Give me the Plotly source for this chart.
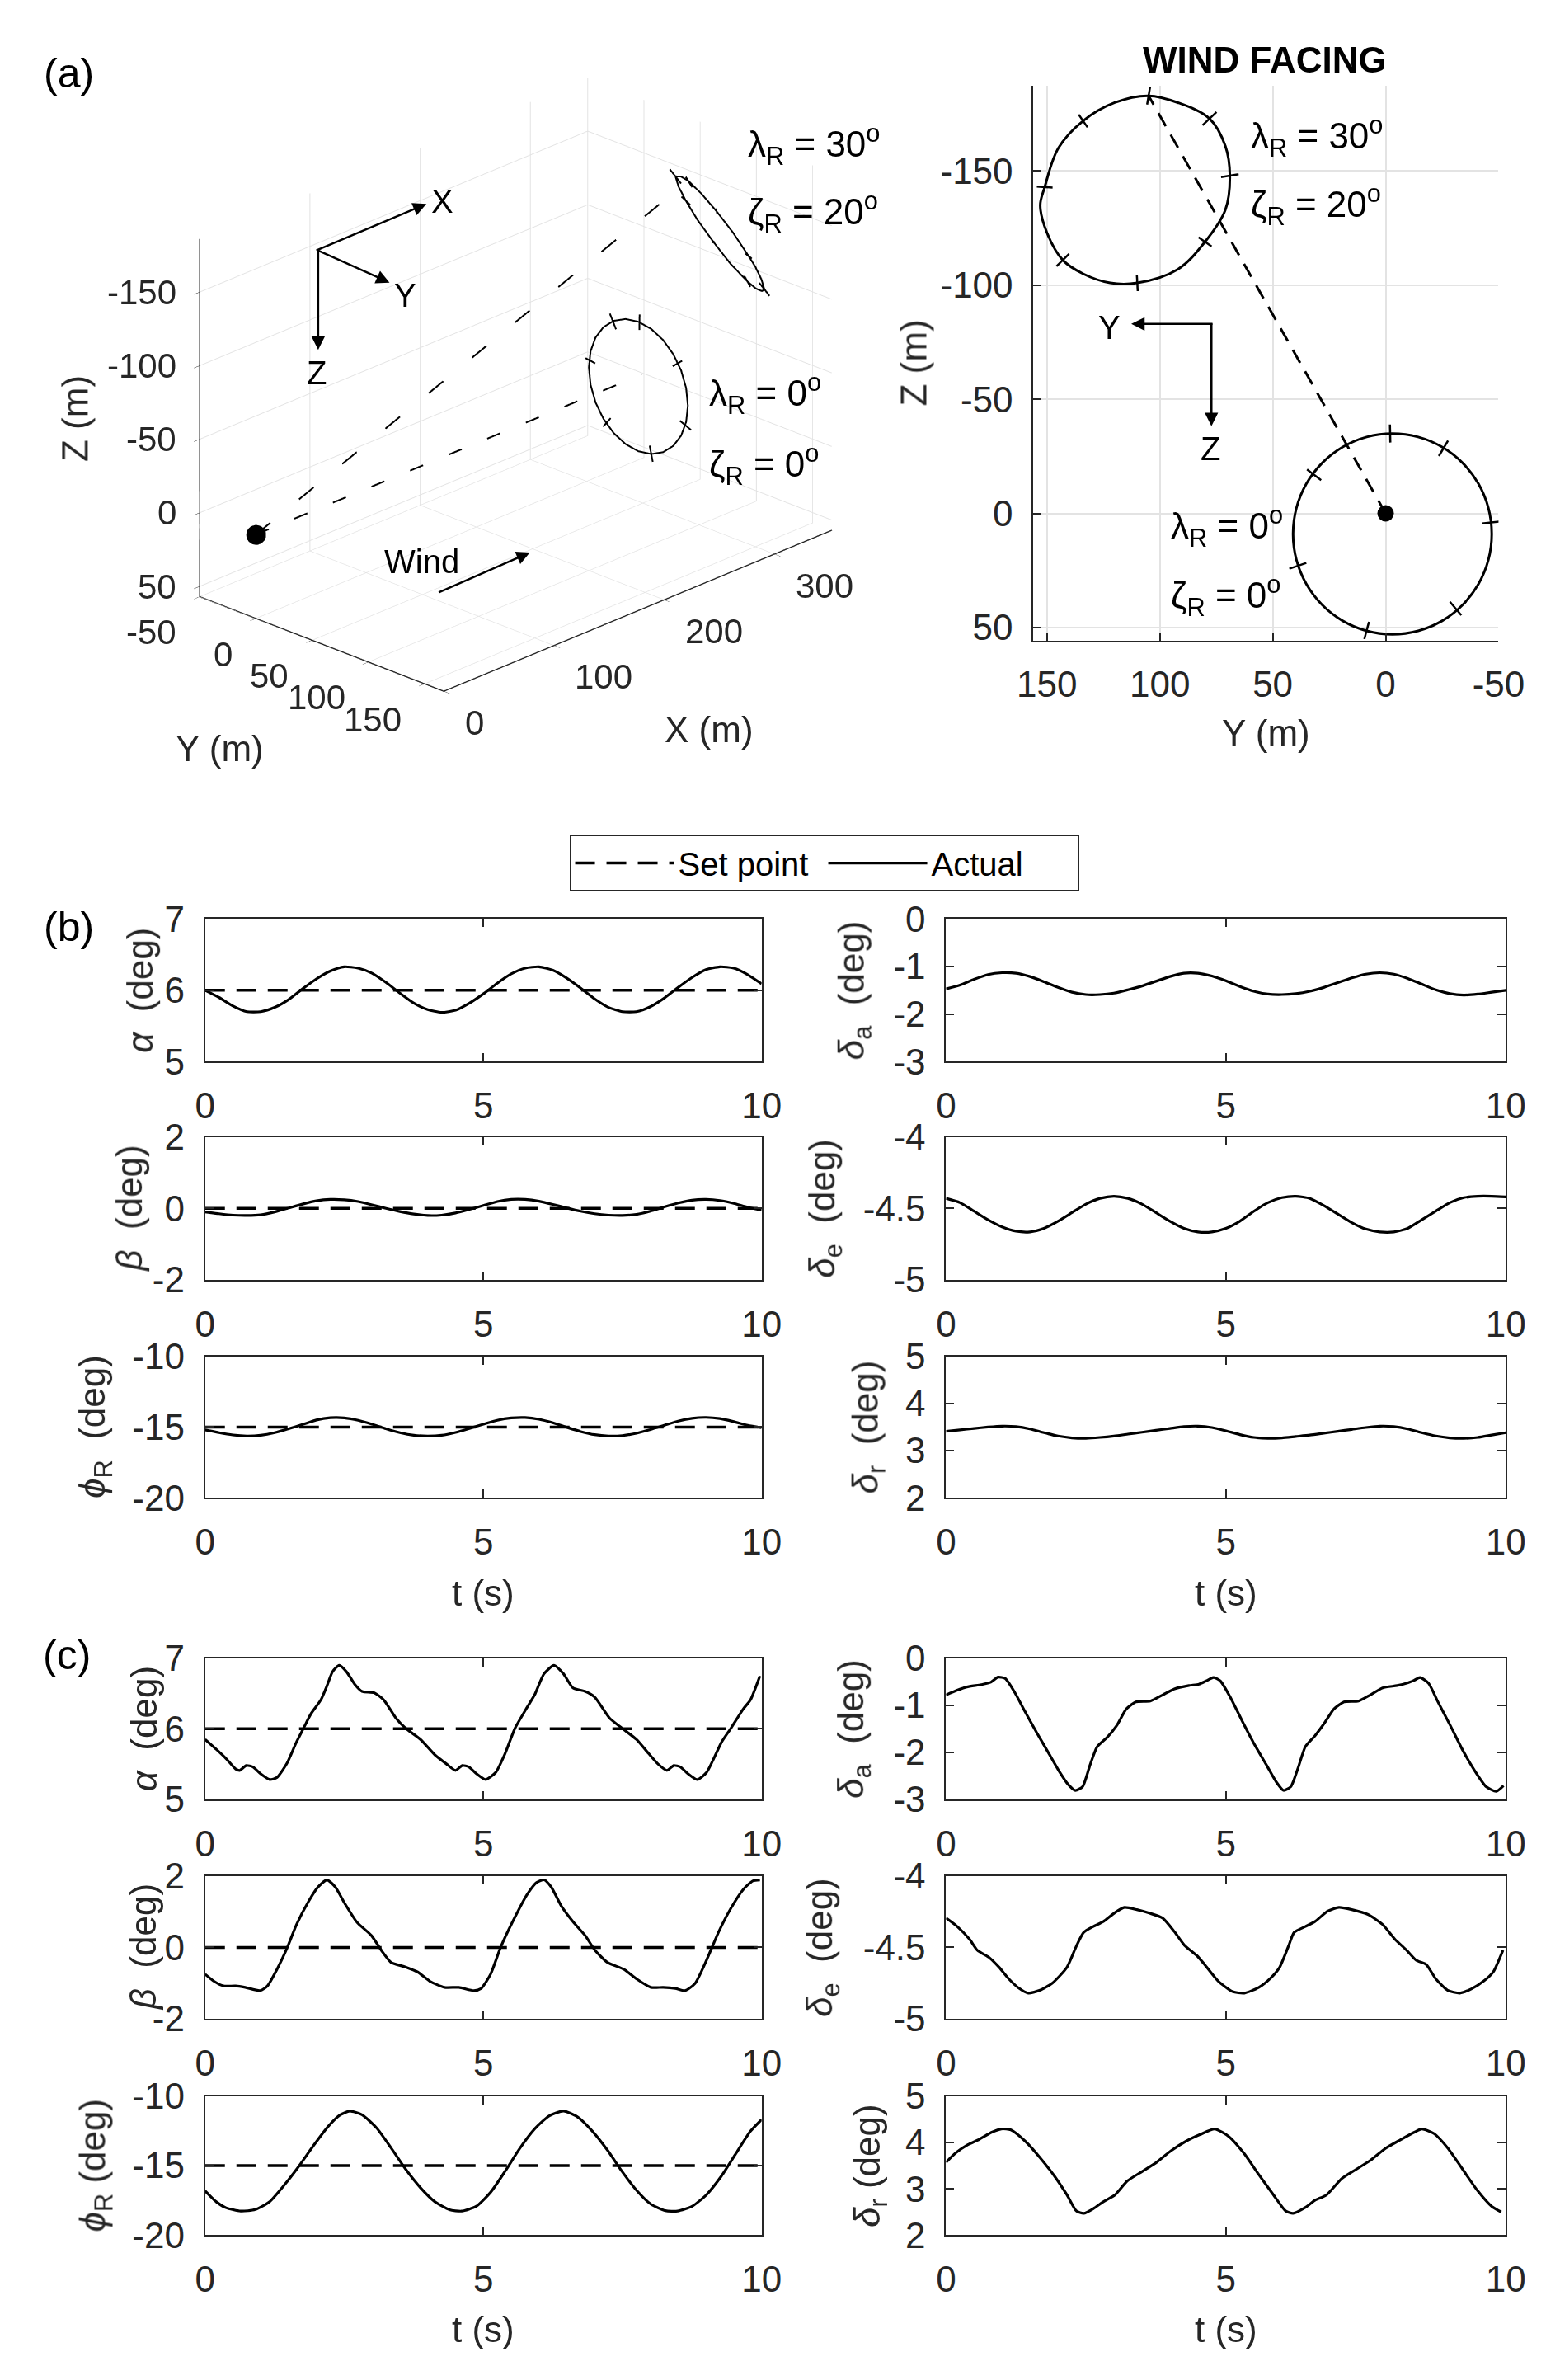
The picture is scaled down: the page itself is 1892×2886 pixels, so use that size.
import numpy as np
import plotly.graph_objects as go

W, H = 1892, 2886
FONT = "Liberation Sans, Arial, sans-serif"
INK = "#262626"
GRID = "#e3e3e3"

# ---------------- (a) flight paths, metres ----------------
# ground station
gs_x, gs_y, gs_z = [0], [0], [0]
# tether end points (lambda=0/zeta=0 and lambda=30/zeta=20)
tether_x = [350, 285]
tether_y = [0, 105]
tether_z = [0, -183]

# loop at lambda_R = 0, zeta_R = 0
low_y = [-3, -14.4, -25, -34.1, -41.1, -45.5, -47, -45.5, -41.1, -34.1, -25, -14.4,
         -3, 8.4, 19, 28.1, 35.1, 39.5, 41, 39.5, 35.1, 28.1, 19, 8.4]
low_z = [-35, -33.5, -29.1, -22.1, -13, -2.4, 9, 20.4, 31, 40.1, 47.1, 51.5,
         53, 51.5, 47.1, 40.1, 31, 20.4, 9, -2.4, -13, -22.1, -29.1, -33.5]
low_x = [350] * len(low_y)
low_tick_y = [-2, -25.6, -46.6, -31, 8.4, 38.9, 31.7]
low_tick_z = [-35, -28.5, 4, 41.7, 51.3, 23, -16.9]
low_tick_x = [350] * len(low_tick_y)

# loop at lambda_R = 30, zeta_R = 20
up_x = [285.0, 291.6, 301.0, 310.9, 319.6, 328.1, 333.4, 336.4, 333.6, 329.2,
        322.4, 315.4, 305.5, 297.0, 292.9, 284.6, 281.2, 281.4]
up_y = [105, 92, 78, 71, 69, 71, 80, 92, 110, 122, 134, 143, 150, 153, 151, 145, 134, 120]
up_z = [-183, -180, -173, -161, -148, -133, -119, -107, -101, -101, -105, -111,
        -123, -135, -143, -160, -172, -180]
up_tick_x = [285.0, 301.0, 319.6, 333.4, 333.6, 315.4, 292.9, 281.2]
up_tick_y = [105, 78, 69, 80, 110, 143, 151, 134]
up_tick_z = [-183, -173, -148, -119, -101, -111, -143, -172]

# axis ticks of panel (a)
x3_ticks = [0, 100, 200, 300]
y3_ticks = [-50, 0, 50, 100, 150]
z3_ticks = [-150, -100, -50, 0, 50]
yf_ticks = [150, 100, 50, 0, -50]
zf_ticks = [-150, -100, -50, 0, 50]

# ---------------- (b) / (c) time histories ----------------
t_b = [i * 0.25 for i in range(41)]
b_alpha = [6.00, 5.90, 5.78, 5.70, 5.70, 5.76, 5.87, 6.02, 6.16, 6.27, 6.33, 6.31, 6.24, 6.11,
           5.96, 5.82, 5.73, 5.69, 5.72, 5.82, 5.95, 6.10, 6.23, 6.31, 6.33, 6.28, 6.17, 6.03,
           5.88, 5.76, 5.70, 5.70, 5.77, 5.89, 6.04, 6.18, 6.29, 6.33, 6.31, 6.22, 6.09]
b_beta = [-0.10, -0.15, -0.19, -0.20, -0.18, -0.10, 0.01, 0.12, 0.21, 0.25, 0.24, 0.19, 0.10,
          0.00, -0.09, -0.16, -0.20, -0.19, -0.13, -0.03, 0.08, 0.19, 0.25, 0.25, 0.20, 0.11,
          0.01, -0.08, -0.15, -0.19, -0.20, -0.17, -0.08, 0.04, 0.15, 0.23, 0.25, 0.22, 0.14,
          0.03, -0.05]
b_phi = [-15.20, -15.40, -15.56, -15.63, -15.58, -15.40, -15.12, -14.82, -14.50, -14.34,
         -14.35, -14.52, -14.80, -15.12, -15.40, -15.58, -15.63, -15.58, -15.38, -15.10,
         -14.80, -14.52, -14.36, -14.33, -14.45, -14.70, -15.02, -15.32, -15.54, -15.63,
         -15.60, -15.44, -15.18, -14.88, -14.58, -14.38, -14.32, -14.40, -14.62, -14.88, -15.05]
b_da = [-1.47, -1.39, -1.27, -1.17, -1.13, -1.14, -1.21, -1.32, -1.44, -1.54, -1.59, -1.59,
        -1.56, -1.49, -1.41, -1.31, -1.21, -1.14, -1.14, -1.20, -1.30, -1.42, -1.52, -1.58,
        -1.59, -1.57, -1.52, -1.44, -1.34, -1.24, -1.16, -1.13, -1.16, -1.25, -1.37, -1.49,
        -1.57, -1.60, -1.58, -1.54, -1.50]
b_de = [-4.43, -4.46, -4.52, -4.58, -4.63, -4.66, -4.665, -4.64, -4.59, -4.53, -4.47, -4.43,
        -4.415, -4.43, -4.47, -4.53, -4.59, -4.64, -4.665, -4.665, -4.64, -4.59, -4.52, -4.46,
        -4.425, -4.415, -4.43, -4.48, -4.54, -4.60, -4.645, -4.665, -4.665, -4.64, -4.58,
        -4.52, -4.46, -4.425, -4.415, -4.415, -4.42]
b_dr = [3.41, 3.44, 3.47, 3.50, 3.52, 3.51, 3.46, 3.38, 3.31, 3.27, 3.26, 3.28, 3.31, 3.35,
        3.39, 3.43, 3.47, 3.51, 3.52, 3.49, 3.42, 3.34, 3.28, 3.26, 3.27, 3.30, 3.33, 3.37,
        3.41, 3.45, 3.49, 3.52, 3.51, 3.46, 3.38, 3.31, 3.27, 3.26, 3.28, 3.33, 3.38]

c_alpha_t = [0, 0.2, 0.375, 0.55, 0.62, 0.74, 0.86, 1.0, 1.16, 1.29, 1.47, 1.64, 1.77, 1.9,
             2.08, 2.19, 2.29, 2.41, 2.54, 2.69, 2.82, 3.04, 3.21, 3.43, 3.6, 3.87, 4.13, 4.34,
             4.5, 4.62, 4.74, 4.88, 5.04, 5.22, 5.39, 5.57, 5.79, 5.92, 6.09, 6.27, 6.44, 6.61,
             6.83, 7.0, 7.27, 7.49, 7.75, 7.97, 8.14, 8.3, 8.42, 8.54, 8.68, 8.84, 9.01, 9.28,
             9.45, 9.67, 9.8, 9.97]
c_alpha = [5.85, 5.71, 5.58, 5.43, 5.41, 5.48, 5.46, 5.36, 5.28, 5.31, 5.51, 5.81, 6.01, 6.21,
           6.41, 6.61, 6.81, 6.9, 6.81, 6.63, 6.53, 6.51, 6.41, 6.15, 6.01, 5.85, 5.63, 5.5,
           5.41, 5.48, 5.46, 5.36, 5.28, 5.38, 5.65, 6.01, 6.31, 6.48, 6.78, 6.9, 6.78, 6.58,
           6.53, 6.45, 6.15, 6.01, 5.85, 5.65, 5.5, 5.41, 5.48, 5.46, 5.36, 5.28, 5.38, 5.81,
           6.01, 6.28, 6.41, 6.75]
c_beta_t = [0, 0.16, 0.33, 0.55, 0.72, 0.99, 1.12, 1.29, 1.47, 1.64, 1.86, 2.03, 2.19, 2.34,
            2.51, 2.73, 2.99, 3.17, 3.34, 3.6, 3.82, 4.04, 4.3, 4.56, 4.83, 4.96, 5.13, 5.31,
            5.52, 5.79, 5.96, 6.09, 6.22, 6.4, 6.62, 6.83, 7.01, 7.23, 7.53, 7.75, 8.01, 8.23,
            8.45, 8.62, 8.8, 9.01, 9.23, 9.45, 9.67, 9.84, 9.97]
c_beta = [-0.75, -0.95, -1.08, -1.08, -1.12, -1.21, -1.08, -0.62, -0.03, 0.63, 1.29, 1.69,
          1.89, 1.69, 1.23, 0.7, 0.33, -0.09, -0.42, -0.55, -0.69, -0.95, -1.12, -1.12, -1.21,
          -1.15, -0.75, 0.0, 0.7, 1.49, 1.82, 1.89, 1.69, 1.16, 0.7, 0.33, -0.09, -0.42, -0.62,
          -0.88, -1.12, -1.12, -1.15, -1.21, -1.02, -0.36, 0.44, 1.1, 1.62, 1.86, 1.89]
c_phi_t = [0, 0.2, 0.375, 0.64, 0.9, 1.16, 1.42, 1.68, 1.95, 2.21, 2.43, 2.6, 2.82, 3.08, 3.34,
           3.6, 3.87, 4.13, 4.39, 4.61, 4.87, 5.13, 5.39, 5.65, 5.92, 6.18, 6.44, 6.7, 6.96,
           7.23, 7.49, 7.75, 8.01, 8.27, 8.49, 8.75, 9.01, 9.28, 9.54, 9.8, 10.0]
c_phi = [-16.82, -17.6, -18.03, -18.27, -18.16, -17.59, -16.41, -15.07, -13.55, -12.19, -11.35,
         -11.08, -11.35, -12.29, -13.72, -15.24, -16.59, -17.6, -18.17, -18.27, -17.93, -16.92,
         -15.41, -13.79, -12.37, -11.43, -11.08, -11.52, -12.53, -13.89, -15.41, -16.76,
         -17.77, -18.24, -18.27, -17.93, -17.09, -15.74, -14.12, -12.53, -11.69]
c_da_t = [0, 0.2, 0.37, 0.63, 0.8, 0.93, 1.06, 1.23, 1.41, 1.62, 1.84, 2.01, 2.18, 2.31, 2.44,
          2.57, 2.7, 2.88, 3.05, 3.22, 3.39, 3.65, 3.87, 4.08, 4.34, 4.52, 4.65, 4.78, 4.9,
          5.08, 5.29, 5.51, 5.73, 5.9, 6.03, 6.16, 6.29, 6.42, 6.59, 6.76, 6.93, 7.11, 7.37,
          7.58, 7.8, 8.06, 8.23, 8.36, 8.47, 8.62, 8.79, 9.01, 9.22, 9.44, 9.65, 9.83, 9.96]
c_da = [-0.78, -0.68, -0.61, -0.56, -0.51, -0.4, -0.43, -0.73, -1.13, -1.58, -2.03, -2.38,
        -2.68, -2.81, -2.73, -2.28, -1.88, -1.68, -1.43, -1.08, -0.93, -0.91, -0.78, -0.65,
        -0.58, -0.55, -0.48, -0.41, -0.48, -0.83, -1.33, -1.83, -2.28, -2.63, -2.81, -2.73,
        -2.33, -1.88, -1.65, -1.38, -1.08, -0.93, -0.91, -0.78, -0.63, -0.58, -0.53, -0.47,
        -0.41, -0.53, -0.93, -1.43, -1.93, -2.38, -2.73, -2.83, -2.71]
c_de_t = [0, 0.2, 0.42, 0.56, 0.78, 0.95, 1.12, 1.3, 1.47, 1.68, 1.9, 2.16, 2.33, 2.46, 2.63,
          2.81, 3.02, 3.19, 3.41, 3.63, 3.87, 4.08, 4.26, 4.48, 4.62, 4.86, 5.12, 5.33, 5.59,
          5.8, 5.96, 6.12, 6.22, 6.42, 6.59, 6.82, 7.02, 7.25, 7.54, 7.8, 8.02, 8.23, 8.4,
          8.58, 8.75, 8.96, 9.18, 9.39, 9.61, 9.78, 9.95]
c_de = [-4.295, -4.354, -4.443, -4.52, -4.574, -4.64, -4.72, -4.785, -4.82, -4.8, -4.75,
        -4.64, -4.49, -4.395, -4.354, -4.32, -4.256, -4.22, -4.236, -4.26, -4.295, -4.39,
        -4.485, -4.557, -4.62, -4.735, -4.81, -4.82, -4.78, -4.715, -4.64, -4.49, -4.395,
        -4.354, -4.32, -4.246, -4.22, -4.236, -4.27, -4.34, -4.443, -4.52, -4.59, -4.62,
        -4.72, -4.8, -4.82, -4.79, -4.735, -4.67, -4.52]
c_dr_t = [0, 0.17, 0.39, 0.6, 0.82, 0.99, 1.16, 1.42, 1.68, 1.94, 2.16, 2.33, 2.46, 2.63,
          2.81, 3.02, 3.24, 3.5, 3.76, 4.02, 4.28, 4.54, 4.8, 5.06, 5.32, 5.58, 5.85, 6.07,
          6.2, 6.41, 6.59, 6.8, 7.07, 7.33, 7.59, 7.85, 8.11, 8.37, 8.5, 8.72, 8.97, 9.23,
          9.49, 9.75, 9.92]
c_dr = [3.57, 3.77, 3.95, 4.07, 4.22, 4.29, 4.27, 4.02, 3.67, 3.27, 2.87, 2.52, 2.47, 2.57,
        2.72, 2.87, 3.17, 3.37, 3.57, 3.82, 4.02, 4.17, 4.29, 4.12, 3.77, 3.32, 2.87, 2.52,
        2.47, 2.59, 2.75, 2.87, 3.22, 3.42, 3.62, 3.87, 4.05, 4.22, 4.29, 4.19, 3.87, 3.42,
        2.97, 2.62, 2.5]

set_alpha, set_beta, set_phi = 6, 0, -15
t_ticks = [0, 5, 10]


def px(x):
    return x / W


def py(y):
    return 1 - y / H


def closed(v):
    return list(v) + [v[0]]


def labels(vals):
    # MATLAB style hyphen minus
    return ["%g" % v for v in vals]


def radial_ticks(cols, tick_cols, frac):
    # short strokes across the path, pointing away from the loop centre
    centre = [float(np.mean(c)) for c in cols]
    out = [[] for _ in tick_cols]
    for pt in zip(*tick_cols):
        for k, (p, c) in enumerate(zip(pt, centre)):
            out[k] += [p - frac * (p - c), p + frac * (p - c), None]
    return out


fig = go.Figure()
solid3d = dict(color="black", width=4)

# ---------------- 3D view ----------------
loops = [(low_x, low_y, low_z, low_tick_x, low_tick_y, low_tick_z),
         (up_x, up_y, up_z, up_tick_x, up_tick_y, up_tick_z)]
for lx, ly, lz, tx, ty, tz in loops:
    fig.add_trace(go.Scatter3d(x=closed(lx), y=closed(ly), z=closed(lz), mode="lines",
                               line=solid3d, showlegend=False, hoverinfo="skip", scene="scene"))
    sx, sy, sz = radial_ticks([lx, ly, lz], [tx, ty, tz], 0.12)
    fig.add_trace(go.Scatter3d(x=sx, y=sy, z=sz, mode="lines", line=solid3d,
                               showlegend=False, hoverinfo="skip", scene="scene"))
for ex, ey, ez in zip(tether_x, tether_y, tether_z):
    fig.add_trace(go.Scatter3d(x=[gs_x[0], ex], y=[gs_y[0], ey], z=[gs_z[0], ez], mode="lines",
                               line=dict(color="black", width=4, dash="longdash"),
                               showlegend=False, hoverinfo="skip", scene="scene"))
fig.add_trace(go.Scatter3d(x=gs_x, y=gs_y, z=gs_z, mode="markers",
                           marker=dict(size=14, color="black"), showlegend=False,
                           hoverinfo="skip", scene="scene"))

# ---------------- wind facing view ----------------
for lx, ly, lz, tx, ty, tz in loops:
    fig.add_trace(go.Scatter(x=closed(ly), y=closed(lz), mode="lines",
                             line=dict(color="black", width=3, shape="spline"),
                             showlegend=False, hoverinfo="skip", xaxis="x", yaxis="y"))
    sy, sz = radial_ticks([ly, lz], [ty, tz], 0.09)
    fig.add_trace(go.Scatter(x=sy, y=sz, mode="lines", line=dict(color="black", width=2.5),
                             showlegend=False, hoverinfo="skip", xaxis="x", yaxis="y"))
for ey, ez in zip(tether_y, tether_z):
    fig.add_trace(go.Scatter(x=[gs_y[0], ey], y=[gs_z[0], ez], mode="lines",
                             line=dict(color="black", width=3, dash="18px,12px"),
                             showlegend=False, hoverinfo="skip", xaxis="x", yaxis="y"))
fig.add_trace(go.Scatter(x=gs_y, y=gs_z, mode="markers", marker=dict(size=20, color="black"),
                         showlegend=False, hoverinfo="skip", xaxis="x", yaxis="y"))

# ---------------- time histories ----------------
LEFT = (227, 921)
RIGHT = (1151, 1849)
ROWS_B = [(1100, 1276), (1369, 1545), (1639.5, 1814)]
ROWS_C = [(2012, 2186), (2280.5, 2456.7), (2552, 2723.6)]

panels = [
    # t, value, set point, column, rows, y range, y ticks, label, label x
    (t_b, b_alpha, set_alpha, LEFT, ROWS_B[0], [5, 7], [5, 6, 7], "<i>α</i>  (deg)", 146),
    (t_b, b_beta, set_beta, LEFT, ROWS_B[1], [-2, 2], [-2, 0, 2], "<i>β</i>  (deg)", 132),
    (t_b, b_phi, set_phi, LEFT, ROWS_B[2], [-20, -10], [-20, -15, -10], "<i>ϕ</i><sub>R</sub>  (deg)", 90),
    (t_b, b_da, None, RIGHT, ROWS_B[0], [-3, 0], [-3, -2, -1, 0], "<i>δ</i><sub>a</sub>  (deg)", 1036),
    (t_b, b_de, None, RIGHT, ROWS_B[1], [-5, -4], [-5, -4.5, -4], "<i>δ</i><sub>e</sub>  (deg)", 1000),
    (t_b, b_dr, None, RIGHT, ROWS_B[2], [2, 5], [2, 3, 4, 5], "<i>δ</i><sub>r</sub>  (deg)", 1054),
    (c_alpha_t, c_alpha, set_alpha, LEFT, ROWS_C[0], [5, 7], [5, 6, 7], "<i>α</i>  (deg)", 151),
    (c_beta_t, c_beta, set_beta, LEFT, ROWS_C[1], [-2, 2], [-2, 0, 2], "<i>β</i>  (deg)", 150),
    (c_phi_t, c_phi, set_phi, LEFT, ROWS_C[2], [-20, -10], [-20, -15, -10], "<i>ϕ</i><sub>R</sub> (deg)", 90),
    (c_da_t, c_da, None, RIGHT, ROWS_C[0], [-3, 0], [-3, -2, -1, 0], "<i>δ</i><sub>a</sub>  (deg)", 1036),
    (c_de_t, c_de, None, RIGHT, ROWS_C[1], [-5, -4], [-5, -4.5, -4], "<i>δ</i><sub>e</sub>  (deg)", 997),
    (c_dr_t, c_dr, None, RIGHT, ROWS_C[2], [2, 5], [2, 3, 4, 5], "<i>δ</i><sub>r</sub> (deg)", 1056),
]

tick_font = dict(family=FONT, size=44, color=INK)
annotations = []
layout_axes = {}
first = True
for i, (t, v, sp, col, row, yr, yt, label, lx) in enumerate(panels):
    n = i + 2
    xa, ya = "x%d" % n, "y%d" % n
    if sp is not None:
        fig.add_trace(go.Scatter(x=[t_ticks[0], t_ticks[-1]], y=[sp, sp], mode="lines",
                                 line=dict(color="black", width=3.5, dash="24px,14px"),
                                 name="Set point", showlegend=first, hoverinfo="skip",
                                 xaxis=xa, yaxis=ya))
    fig.add_trace(go.Scatter(x=t, y=v, mode="lines",
                             line=dict(color="black", width=3.2, shape="spline", smoothing=0.6),
                             name="Actual", showlegend=first, hoverinfo="skip",
                             xaxis=xa, yaxis=ya))
    first = False
    common = dict(showline=True, linecolor=INK, linewidth=2, mirror="ticks", ticks="inside",
                  ticklen=10, tickwidth=2, tickcolor=INK, tickfont=tick_font, showgrid=False,
                  zeroline=False, tickmode="array")
    layout_axes["xaxis%d" % n] = dict(common, domain=[px(col[0]), px(col[1])], range=[0, 10],
                                      tickvals=t_ticks, ticktext=labels(t_ticks), anchor=ya,
                                      ticklabelstandoff=14)
    layout_axes["yaxis%d" % n] = dict(common, domain=[py(row[1]), py(row[0])], range=yr,
                                      tickvals=yt, ticktext=labels(yt), anchor=xa,
                                      ticklabelstandoff=14)
    annotations.append(dict(text=label, x=px(lx), y=py((row[0] + row[1]) / 2), textangle=-90,
                            xref="paper", yref="paper", showarrow=False, xanchor="center",
                            yanchor="middle", font=dict(family=FONT, size=44, color=INK)))


def note(text, x, y, size=44, color=INK, **kw):
    # anchors are given explicitly: paper notes otherwise pick them from their position
    d = dict(text=text, x=px(x), y=py(y), xref="paper", yref="paper", showarrow=False,
             xanchor="center", yanchor="middle", font=dict(family=FONT, size=size, color=color))
    d.update(kw)
    annotations.append(d)


def arrow(x0, y0, x1, y1):
    annotations.append(dict(text="", x=px(x1), y=py(y1), xref="paper", yref="paper",
                            showarrow=True, ax=x0 - x1, ay=y0 - y1, arrowhead=2,
                            arrowsize=1.3, arrowwidth=2.5, arrowcolor="black"))


# axis titles of time histories
for cx in (574, 1500):
    note("t (s)", cx, 1931)
    note("t (s)", cx, 2840)

# panel letters
note("(a)", 57, 57, size=50, color="black")
note("(b)", 57, 1110, size=50, color="black")
note("(c)", 54, 2008, size=50, color="black")

# 3D view labels
note("Z (m)", 65, 483, textangle=-90)
note("Y (m)", 245, 890)
note("X (m)", 856, 866)
note("λ<sub>R</sub> = 30<sup>o</sup>", 902, 145, xanchor="left", color="black")
note("ζ<sub>R</sub> = 20<sup>o</sup>", 902, 228, xanchor="left", color="black")
note("λ<sub>R</sub> = 0<sup>o</sup>", 853, 452, xanchor="left", color="black")
note("ζ<sub>R</sub> = 0<sup>o</sup>", 853, 540, xanchor="left", color="black")
arrow(368, 275, 503, 218)
arrow(368, 275, 457, 315)
arrow(368, 275, 368, 398)
note("X", 523, 215, size=40, color="black")
note("Y", 477, 331, size=40, color="black")
note("Z", 366, 426, size=40, color="black")
arrow(520, 697, 632, 648)
note("Wind", 497, 659, size=40, color="black")

# wind facing labels
note("<b>WIND FACING</b>", 1549, 40, size=44, color="black")
note("Z (m)", 1111, 414, textangle=-90)
note("Y (m)", 1550, 870)
note("λ<sub>R</sub> = 30<sup>o</sup>", 1529, 135, xanchor="left", color="black")
note("ζ<sub>R</sub> = 20<sup>o</sup>", 1529, 219, xanchor="left", color="black")
note("λ<sub>R</sub> = 0<sup>o</sup>", 1429, 616, xanchor="left", color="black")
note("ζ<sub>R</sub> = 0<sup>o</sup>", 1429, 701, xanchor="left", color="black")
arrow(1482, 366, 1382, 366)
arrow(1482, 366, 1482, 492)
note("Y", 1355, 370, size=40, color="black")
note("Z", 1481, 520, size=40, color="black")

# 3D tick labels sit on the box edges through the scene projection
X3, Y3, Z3 = [0, 352], [-50, 167], [-186, 57]
scene_notes = []
tick3 = dict(family=FONT, size=42, color=INK)
for v in x3_ticks:
    scene_notes.append(dict(x=v, y=Y3[1], z=Z3[1], text="%g" % v, showarrow=False,
                            xanchor="left", yanchor="middle", xshift=24, yshift=-38, font=tick3))
for v in y3_ticks:
    scene_notes.append(dict(x=X3[0], y=v, z=Z3[1], text="%g" % v, showarrow=False,
                            xanchor="right", yanchor="middle", xshift=-26, yshift=-43, font=tick3))
for v in z3_ticks:
    scene_notes.append(dict(x=X3[0], y=Y3[0], z=v, text="%g" % v, showarrow=False,
                            xanchor="right", yanchor="middle", xshift=-26, font=tick3))

axis3d = dict(showbackground=False, showgrid=True, gridcolor=GRID, gridwidth=2, zeroline=False,
              showline=True, linecolor=INK, linewidth=3, ticks="outside", tickcolor=INK,
              ticklen=10, showticklabels=False, showspikes=False, title=dict(text=""))
# orthographic view: the box size on screen follows the aspect ratio, not the eye distance
eye_dir = np.array([-0.659, -0.637, 0.401])
eye = 3.0 * eye_dir
box = np.array([1, 0.608, 0.699]) / 0.624

fig.update_layout(
    width=W, height=H, margin=dict(l=0, r=0, t=0, b=0),
    paper_bgcolor="white", plot_bgcolor="white",
    font=dict(family=FONT, size=44, color=INK),
    scene=dict(
        domain=dict(x=[px(114), px(1114)], y=[py(871), py(11)]),
        xaxis=dict(axis3d, range=X3, tickvals=x3_ticks),
        yaxis=dict(axis3d, range=Y3[::-1], tickvals=y3_ticks),
        zaxis=dict(axis3d, range=Z3[::-1], tickvals=z3_ticks),
        aspectmode="manual", aspectratio=dict(x=box[0], y=box[1], z=box[2]),
        camera=dict(eye=dict(x=eye[0], y=eye[1], z=eye[2]), up=dict(x=0, y=0, z=1),
                    center=dict(x=0, y=0, z=0), projection=dict(type="orthographic")),
        bgcolor="white",
        annotations=scene_notes,
    ),
    xaxis=dict(domain=[px(1260), px(1840)], range=[156, -50], tickmode="array",
               tickvals=yf_ticks, ticktext=labels(yf_ticks),
               showgrid=True, gridcolor=GRID, gridwidth=2, zeroline=False, showline=True,
               linecolor=INK, linewidth=2, ticks="inside", ticklen=10, tickwidth=2,
               tickcolor=INK, tickfont=tick_font, anchor="y", ticklabelstandoff=14),
    yaxis=dict(domain=[py(756.5), py(72.5)], range=[55.7, -187.3], tickmode="array",
               tickvals=zf_ticks, ticktext=labels(zf_ticks),
               showgrid=True, gridcolor=GRID, gridwidth=2, zeroline=False, showline=True,
               linecolor=INK, linewidth=2, ticks="inside", ticklen=10, tickwidth=2,
               tickcolor=INK, tickfont=tick_font, anchor="x", ticklabelstandoff=14),
    legend=dict(orientation="h", x=px(999), xanchor="center", y=py(996), yanchor="top",
                bordercolor=INK, borderwidth=2, bgcolor="white", itemwidth=120,
                entrywidth=172, font=dict(family=FONT, size=40, color="black")),
    annotations=annotations,
    **layout_axes,
)

fig.write_html("out.html")
